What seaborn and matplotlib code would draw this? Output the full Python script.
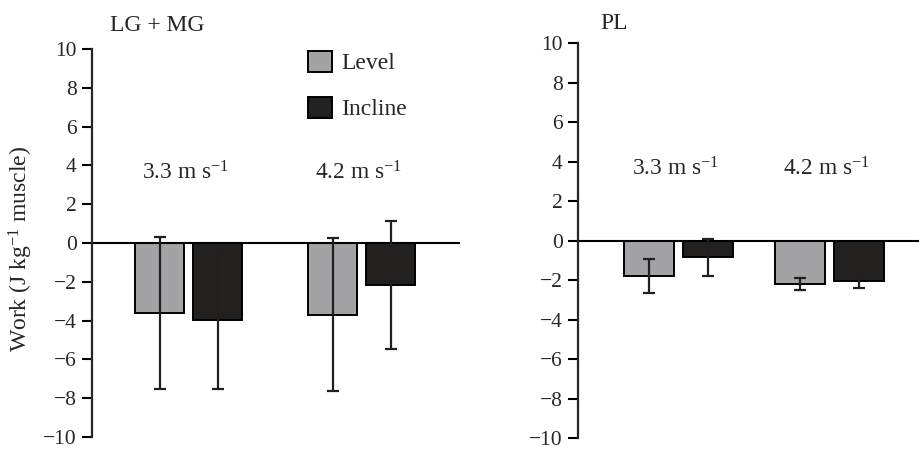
import matplotlib
matplotlib.use("Agg")
import matplotlib.pyplot as plt
import seaborn as sns
import pandas as pd

# values
speeds = ["3.3", "4.2"]
conditions = ["Level", "Incline"]
speed_labels = [r"3.3 m s$^{-1}$", r"4.2 m s$^{-1}$"]

lgmg_level = [-3.6, -3.7]
lgmg_incline = [-3.95, -2.15]
lgmg_level_err = [3.9, 3.95]
lgmg_incline_err = [3.6, 3.3]

pl_level = [-1.8, -2.2]
pl_incline = [-0.85, -2.05]
pl_level_err = [0.85, 0.3]
pl_incline_err = [0.95, 0.35]

yticks = list(range(-10, 11, 2))

GRAY = "#a2a3a6"
BLACK = "#231f20"

sns.set_style("ticks")
plt.rcParams["font.family"] = ["Liberation Serif", "DejaVu Serif"]
plt.rcParams["mathtext.fontset"] = "custom"
plt.rcParams["mathtext.rm"] = "Liberation Serif"
plt.rcParams["mathtext.it"] = "Liberation Serif:italic"
plt.rcParams["axes.unicode_minus"] = True


def draw_panel(ax, level, incline, level_err, incline_err, width, gap, xlim, show_legend):
    df = pd.DataFrame({
        "speed": speeds * 2,
        "condition": ["Level"] * 2 + ["Incline"] * 2,
        "work": level + incline,
    })
    sns.barplot(data=df, x="speed", y="work", hue="condition",
                order=speeds, hue_order=conditions, palette=[GRAY, BLACK],
                width=width, gap=gap, errorbar=None, edgecolor="black",
                linewidth=1.4, legend=show_legend, ax=ax)

    # error bars on top of the seaborn bars
    for cont, errs in zip(ax.containers, [level_err, incline_err]):
        xs = [p.get_x() + p.get_width() / 2 for p in cont]
        ax.errorbar(xs, cont.datavalues, yerr=errs, fmt="none", ecolor=BLACK,
                    elinewidth=1.6, capsize=4.3, capthick=1.6, zorder=3)

    ax.axhline(0, color="black", lw=1.5, zorder=2)
    ax.set_xlim(*xlim)
    ax.set_ylim(-10, 10)
    ax.set_yticks(yticks)
    ax.set_xticks([])
    ax.set_xlabel("")
    ax.set_ylabel("")
    ax.tick_params(axis="y", labelsize=15.5, length=7, width=1.5, pad=4, color="black")
    sns.despine(ax=ax, bottom=True)
    ax.spines["left"].set_linewidth(1.6)
    ax.set_facecolor("none")

    for i, lbl in enumerate(speed_labels):
        ax.text(i - 0.02, 3.3, lbl, ha="center", va="baseline", fontsize=16.8)


fig = plt.figure(figsize=(9.19, 4.5), dpi=100)
ax1 = fig.add_axes([0.1001, 0.0289, 0.4004, 0.862])
ax2 = fig.add_axes([0.629, 0.0267, 0.371, 0.877])

draw_panel(ax1, lgmg_level, lgmg_incline, lgmg_level_err, lgmg_incline_err,
           0.67, 0.155, (-0.558, 1.569), True)
draw_panel(ax2, pl_level, pl_incline, pl_level_err, pl_incline_err,
           0.777, 0.15, (-0.666, 1.593), False)

handles, labels = ax1.get_legend_handles_labels()
ax1.get_legend().remove()
ax1.legend(handles, labels, loc="upper left", bbox_to_anchor=(0.587, 0.995),
           frameon=False, fontsize=17, borderpad=0, borderaxespad=0,
           handlelength=1.0, handleheight=0.97, handletextpad=0.4,
           labelspacing=0.95)

ax1.set_ylabel(r"Work (J kg$^{-1}$ muscle)", fontsize=17)
ax1.yaxis.set_label_coords(-0.155, 0.485)

ax1.text(0.049, 1.062, "LG + MG", transform=ax1.transAxes, ha="left",
         va="center", fontsize=17)
ax2.text(0.0645, 1.05, "PL", transform=ax2.transAxes, ha="left",
         va="center", fontsize=17)

fig.savefig("out.png", dpi=100)
